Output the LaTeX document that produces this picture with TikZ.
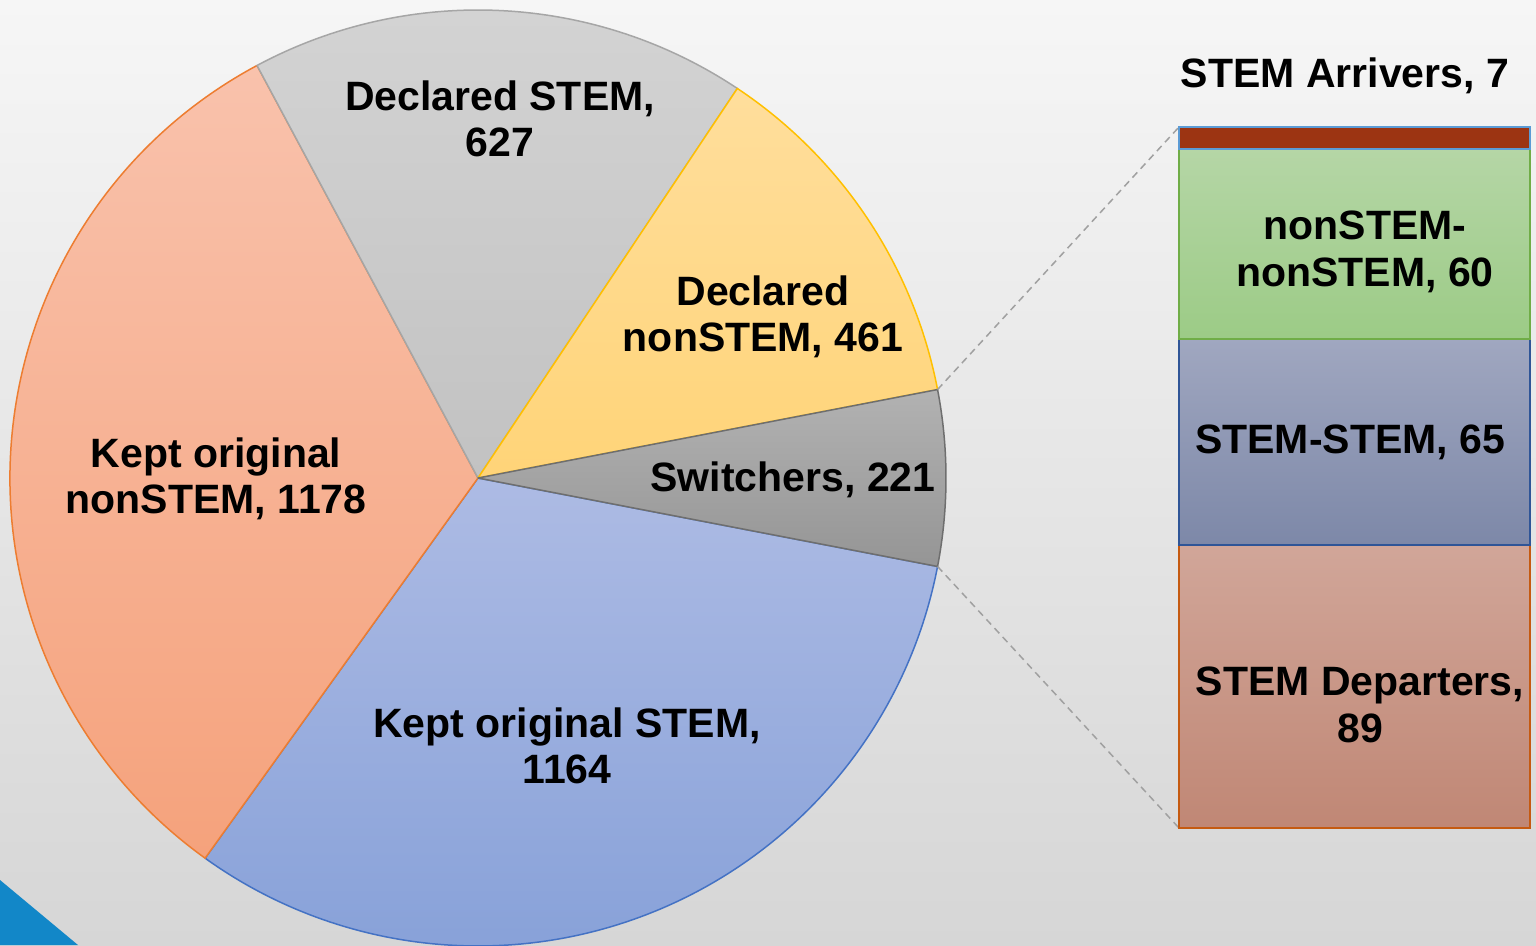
\documentclass[tikz,border=0pt]{standalone}
\usepackage{fontspec}
\setmainfont{Liberation Sans}
\usetikzlibrary{calc}
\begin{document}
\begin{tikzpicture}[x=1pt,y=1pt,
  lbl/.style={font=\fontsize{41}{46.5}\selectfont\bfseries, align=center, text=black, inner sep=0pt},
  slice/.style={line width=1.5pt, line join=round},
  barseg/.style={line width=1.5pt}]
\definecolor{bgtop}{HTML}{F6F6F6}
\definecolor{bgbot}{HTML}{D6D6D6}
\definecolor{dsT}{HTML}{D4D4D4}\definecolor{dsB}{HTML}{C2C2C2}\definecolor{dsL}{HTML}{A6A6A6}
\definecolor{dnT}{HTML}{FFDE9C}\definecolor{dnB}{HTML}{FFD478}\definecolor{dnL}{HTML}{FFC000}
\definecolor{swT}{HTML}{B2B2B2}\definecolor{swB}{HTML}{959595}\definecolor{swL}{HTML}{6E6E6E}
\definecolor{knT}{HTML}{F9C2AC}\definecolor{knB}{HTML}{F5A27C}\definecolor{knL}{HTML}{ED7D31}
\definecolor{ksT}{HTML}{ADBBE4}\definecolor{ksB}{HTML}{86A0D8}\definecolor{ksL}{HTML}{4472C4}
\definecolor{arF}{HTML}{9C3412}\definecolor{arL}{HTML}{5B9BD5}
\definecolor{gnT}{HTML}{B5D6A6}\definecolor{gnB}{HTML}{9CCB86}\definecolor{gnL}{HTML}{70AD47}
\definecolor{blT}{HTML}{A0A7C0}\definecolor{blB}{HTML}{7D88A8}\definecolor{blL}{HTML}{2F5597}
\definecolor{sdT}{HTML}{D1A699}\definecolor{sdB}{HTML}{C08775}\definecolor{sdL}{HTML}{C55A11}
\definecolor{tri}{HTML}{1287C8}
\definecolor{dashc}{HTML}{A0A0A0}
\useasboundingbox (0,-945) rectangle (1536,0);
\shade[top color=bgtop, bottom color=bgbot] (0,-945) rectangle (1536,0);
\fill[tri] (0,-880) -- (78,-945) -- (0,-945) -- cycle;
% pie
\coordinate (c) at (478,-478);
\def\R{468}
\shade[slice, top color=ksT, bottom color=ksB, draw=ksL] (c) -- ++(234.330:\R) arc[start angle=234.330, end angle=349.104, radius=\R] -- cycle;
\shade[slice, top color=knT, bottom color=knB, draw=knL] (c) -- ++(118.176:\R) arc[start angle=118.176, end angle=234.330, radius=\R] -- cycle;
\shade[slice, top color=dsT, bottom color=dsB, draw=dsL] (c) -- ++(56.352:\R) arc[start angle=56.352, end angle=118.176, radius=\R] -- cycle;
\shade[slice, top color=dnT, bottom color=dnB, draw=dnL] (c) -- ++(10.896:\R) arc[start angle=10.896, end angle=56.352, radius=\R] -- cycle;
\shade[slice, top color=swT, bottom color=swB, draw=swL] (c) -- ++(-10.896:\R) arc[start angle=-10.896, end angle=10.896, radius=\R] -- cycle;
\coordinate (pu) at ($(c)+(10.896:\R)$);
\coordinate (pl) at ($(c)+(-10.896:\R)$);
% bar
\coordinate (bu) at (1179,-127);
\coordinate (bl) at (1179,-828);
\draw[dashc, line width=1.5pt, dash pattern=on 7pt off 5pt] (pu) -- (bu);
\draw[dashc, line width=1.5pt, dash pattern=on 7pt off 5pt] (pl) -- (bl);
\shade[barseg, top color=sdT, bottom color=sdB, draw=sdL] (1179,-828) rectangle (1530,-545);
\shade[barseg, top color=blT, bottom color=blB, draw=blL] (1179,-545) rectangle (1530,-339);
\shade[barseg, top color=gnT, bottom color=gnB, draw=gnL] (1179,-339) rectangle (1530,-149);
\filldraw[barseg, fill=arF, draw=arL] (1179,-149) rectangle (1530,-127);
% labels
\node[lbl] (lds) at (500,-119) {Declared STEM,\\627};
\node[lbl] (ldn) at (763,-317) {Declared\\nonSTEM, 461};
\node[lbl] (lsw) at (793,-480) {Switchers, 221};
\node[lbl] (lkn) at (216,-479) {Kept original\\nonSTEM, 1178};
\node[lbl] (lks) at (567,-746) {Kept original STEM,\\1164};
\node[lbl] (lar) at (1345,-76) {STEM Arrivers, 7};
\node[lbl] (lnn) at (1365,-252) {nonSTEM-\\nonSTEM, 60};
\node[lbl] (lss) at (1350,-442) {STEM-STEM, 65};
\node[lbl] (lsd) at (1360,-705) {STEM Departers,\\89};
\end{tikzpicture}
\end{document}
